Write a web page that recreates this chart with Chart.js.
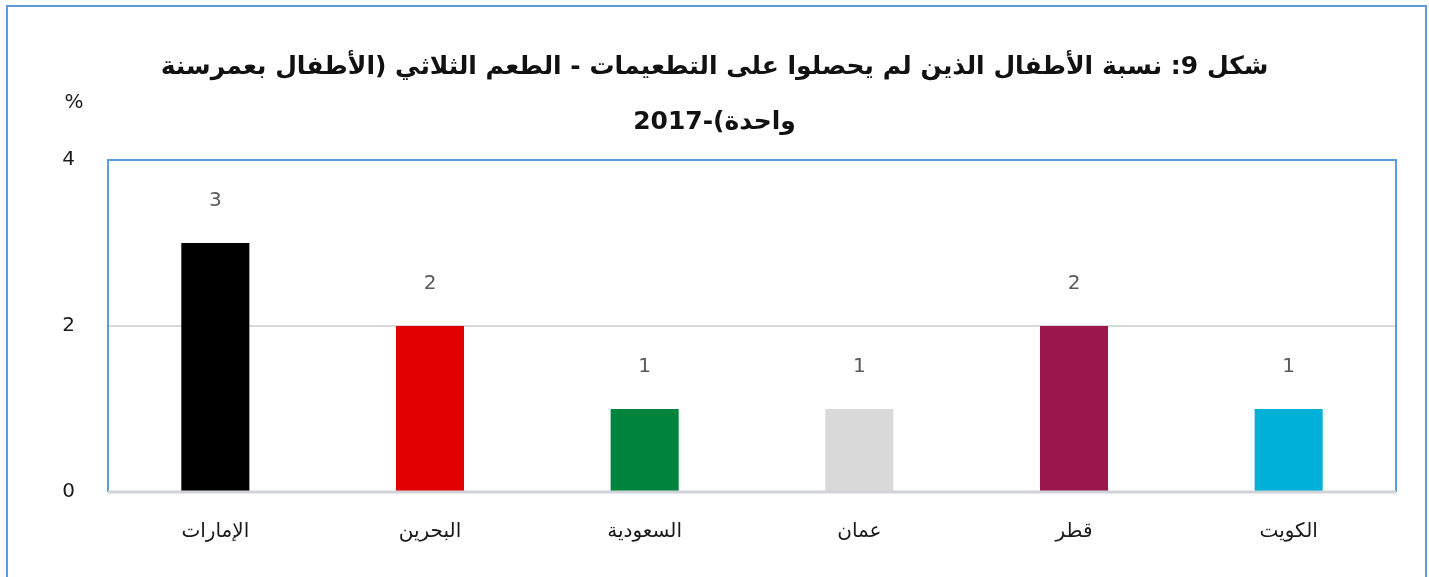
<!DOCTYPE html>
<html>
<head>
<meta charset="utf-8">
<script src="https://cdn.jsdelivr.net/npm/chart.js@4"></script>
<style>
  html, body { margin: 0; padding: 0; background: #fff; }
  #wrap { width: 1429px; height: 577px; position: relative; }
</style>
</head>
<body>
<div id="wrap"><canvas id="bar" dir="rtl" width="1429" height="577"></canvas></div>
<script>
// chart values
const countries = ["الإمارات", "البحرين", "السعودية", "عمان", "قطر", "الكويت"];
const values = [3, 2, 1, 1, 2, 1];
const barColors = ["#000000", "#e30000", "#00843d", "#d9d9d9", "#9b174b", "#00b0d6"];
const yTicks = [0, 2, 4];
const titleLines = [
    "شكل 9: نسبة الأطفال الذين لم يحصلوا على التطعيمات - الطعم الثلاثي (الأطفال بعمرسنة",
    "واحدة)-2017"
];
const unitLabel = "%";

const FONT = "'DejaVu Sans', 'Noto Sans', sans-serif";
const BLUE = "#5b9bd5";

// frame around whole chart + plot area border
const framePlugin = {
    id: 'frame',
    beforeDraw(chart)
    {
        let ctx = chart.ctx;
        ctx.save();
        ctx.strokeStyle = BLUE;
        ctx.lineWidth = 2;
        ctx.strokeRect(7, 6, 1419, 600);
        ctx.restore();
    },
    afterDatasetsDraw(chart)
    {
        let ctx = chart.ctx;
        let a = chart.chartArea;
        ctx.save();
        ctx.strokeStyle = BLUE;
        ctx.lineWidth = 2;
        ctx.beginPath();
        ctx.moveTo(a.left, a.bottom);
        ctx.lineTo(a.left, a.top);
        ctx.lineTo(a.right, a.top);
        ctx.lineTo(a.right, a.bottom);
        ctx.stroke();
        ctx.strokeStyle = "#d0d4d9";
        ctx.lineWidth = 3;
        ctx.beginPath();
        ctx.moveTo(a.left, a.bottom);
        ctx.lineTo(a.right, a.bottom);
        ctx.stroke();

        // unit label
        ctx.fillStyle = "#1a1a1a";
        ctx.font = "20px " + FONT;
        ctx.textAlign = "center";
        ctx.textBaseline = "middle";
        ctx.direction = "ltr";
        ctx.fillText(unitLabel, 74, 103);

        // value labels
        ctx.fillStyle = "#595959";
        let meta = chart.getDatasetMeta(0);
        for(let i=0; i<meta.data.length; i++)
        {
            let bar = meta.data[i];
            ctx.fillText(String(values[i]), bar.x, bar.y - 42);
        }
        ctx.restore();
    }
};

let ctx = document.getElementById("bar").getContext('2d');

const config = {
    type: 'bar',
    data: {
        labels: countries,
        datasets: [
            {
                data: values,
                backgroundColor: barColors,
                borderWidth: 0,
                barPercentage: 0.317,
                categoryPercentage: 1
            }
        ]
    },
    options: {
        responsive: false,
        animation: false,
        layout: {
            padding: { left: 0, right: 0, top: 0, bottom: 5 }
        },
        plugins: {
            legend: { display: false },
            tooltip: { enabled: false },
            title: {
                display: true,
                text: titleLines,
                color: "#111",
                font: { family: FONT, size: 25, weight: 'bold', lineHeight: 2.2 },
                padding: { top: 40, bottom: 10 }
            }
        },
        scales: {
            x: {
                grid: { display: false, drawTicks: false },
                border: { display: false },
                ticks: {
                    color: "#1a1a1a",
                    font: { family: FONT, size: 20 },
                    padding: 28,
                    maxRotation: 0
                }
            },
            y: {
                min: 0,
                max: 4,
                afterFit(scale) { scale.width = 108; },
                afterBuildTicks(scale) { scale.ticks = yTicks.map(v => ({ value: v })); },
                grid: { color: "#d9d9d9", lineWidth: 2, drawTicks: false },
                border: { display: false },
                ticks: {
                    color: "#1a1a1a",
                    font: { family: FONT, size: 20 },
                    padding: 33
                }
            },
            // empty right margin so the title stays centred on the page
            yRight: {
                position: 'right',
                min: 0,
                max: 4,
                afterFit(scale) { scale.width = 33; },
                grid: { display: false, drawTicks: false },
                border: { display: false },
                ticks: { display: false }
            }
        }
    },
    plugins: [framePlugin]
};

let barChart = new Chart(ctx, config);
</script>
</body>
</html>
